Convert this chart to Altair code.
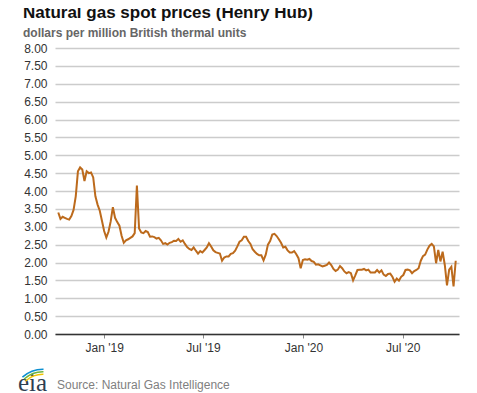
import altair as alt
import pandas as pd

# Henry Hub spot price, read every 4 days from the reference (dollars per MMBtu)
prices = [
    3.40, 3.22, 3.28, 3.25, 3.22, 3.20, 3.30, 3.47, 3.85, 4.55,
    4.66, 4.60, 4.28, 4.55, 4.50, 4.52, 4.38, 3.85, 3.62, 3.45,
    3.17, 2.88, 2.70, 2.86, 3.15, 3.55, 3.25, 3.13, 3.03, 2.75,
    2.55, 2.62, 2.65, 2.69, 2.73, 2.82, 4.15, 2.95, 2.84, 2.82,
    2.88, 2.85, 2.72, 2.73, 2.71, 2.67, 2.69, 2.62, 2.52, 2.54,
    2.50, 2.55, 2.57, 2.61, 2.60, 2.66, 2.58, 2.62, 2.52, 2.43,
    2.38, 2.35, 2.42, 2.33, 2.25, 2.32, 2.28, 2.35, 2.42, 2.54,
    2.45, 2.34, 2.29, 2.27, 2.25, 2.05, 2.14, 2.17, 2.17, 2.24,
    2.26, 2.33, 2.45, 2.58, 2.62, 2.72, 2.72, 2.60, 2.52, 2.37,
    2.30, 2.24, 2.20, 2.20, 2.06, 2.22, 2.50, 2.60, 2.78, 2.80,
    2.74, 2.65, 2.55, 2.42, 2.44, 2.34, 2.28, 2.28, 2.32, 2.23,
    2.12, 1.84, 2.07, 2.09, 2.08, 2.10, 2.04, 2.02, 1.94, 1.95,
    1.92, 1.89, 1.91, 1.93, 2.00, 1.93, 1.82, 1.76, 1.80, 1.90,
    1.84, 1.75, 1.70, 1.73, 1.70, 1.50, 1.64, 1.79, 1.80, 1.80,
    1.82, 1.78, 1.80, 1.72, 1.72, 1.72, 1.79, 1.72, 1.78, 1.66,
    1.62, 1.68, 1.69, 1.60, 1.46, 1.55, 1.49, 1.60, 1.65, 1.79,
    1.80, 1.78, 1.70, 1.76, 1.79, 1.84, 2.05, 2.18, 2.22, 2.36,
    2.47, 2.52, 2.45, 1.98, 2.35, 2.03, 2.30, 1.93, 1.36, 1.80,
    1.88, 1.33, 2.05,
]
dates = pd.date_range("2018-10-09", periods=len(prices), freq="4D")
df = pd.DataFrame({"date": dates, "price": prices})

y_ticks = [i * 0.5 for i in range(17)]
x_tick_dates = [(2019, 1), (2019, 7), (2020, 1), (2020, 7)]

title_text = "Natural gas spot prices (Henry Hub)"
subtitle_text = "dollars per million British thermal units"
source_text = "Source: Natural Gas Intelligence"
logo_text = "eia"

FONT = "Liberation Sans"
LINE_COLOR = "#bc6a1c"

line = alt.Chart(df).mark_line(color=LINE_COLOR, strokeWidth=2).encode(
    x=alt.X(
        "date:T",
        title=None,
        scale=alt.Scale(domain=[alt.DateTime(year=2018, month=10, date=3),
                                alt.DateTime(year=2020, month=10, date=12)]),
        axis=alt.Axis(
            values=[alt.DateTime(year=y, month=m, date=1) for y, m in x_tick_dates],
            format="%b '%y",
            grid=False,
            domain=True,
            domainColor="#333333",
            domainWidth=1.5,
            ticks=True,
            tickSize=4,
            tickColor="#888888",
            tickWidth=1,
            labelFont=FONT,
            labelFontSize=12,
            labelColor="#333333",
            labelPadding=4,
        ),
    ),
    y=alt.Y(
        "price:Q",
        title=None,
        scale=alt.Scale(domain=[0, 8], nice=False),
        axis=alt.Axis(
            values=y_ticks,
            format=".2f",
            grid=True,
            gridColor="#cccccc",
            gridWidth=1.5,
            domain=False,
            ticks=False,
            labelOverlap=False,
            labelFont=FONT,
            labelFontSize=12,
            labelColor="#333333",
            labelPadding=8,
        ),
    ),
)

source = alt.Chart(pd.DataFrame({"t": [source_text]})).mark_text(
    align="left", baseline="alphabetic", font=FONT, fontSize=12, color="#808080"
).encode(text="t:N", x=alt.value(2), y=alt.value(341))

logo = alt.Chart(pd.DataFrame({"t": [logo_text]})).mark_text(
    align="left", baseline="alphabetic", font="Liberation Serif", fontSize=25, color="#2e3f52"
).encode(text="t:N", x=alt.value(-37), y=alt.value(343))

arc_df = pd.DataFrame({
    "r": [25.0, 27.5, 30.0],
    "r2": [26.5, 29.0, 31.5],
    "c": ["#f2c500", "#6cb33f", "#0b8fd0"],
})
arcs = alt.Chart(arc_df).mark_arc().encode(
    x=alt.value(-12),
    y=alt.value(352),
    radius=alt.Radius("r:Q", scale=None),
    radius2=alt.Radius2("r2:Q"),
    theta=alt.value(5.55),
    theta2=alt.value(6.3),
    color=alt.Color("c:N", scale=None),
)

chart = alt.layer(line, source, logo, arcs).properties(
    width=404,
    height=286,
    autosize=alt.AutoSizeParams(type="none"),
    padding={"left": 47, "top": 40, "right": 10, "bottom": 59},
    title=alt.TitleParams(
        text=title_text,
        subtitle=subtitle_text,
        anchor="start",
        frame="group",
        dx=-32,
        offset=2,
        font=FONT,
        fontSize=17,
        fontWeight="bold",
        color="#111111",
        subtitleFont=FONT,
        subtitleFontSize=12,
        subtitleFontWeight="bold",
        subtitleColor="#666666",
        subtitlePadding=6,
    ),
).configure_view(stroke=None)

chart.save("out.html", embed_options={"renderer": "svg", "actions": False})
